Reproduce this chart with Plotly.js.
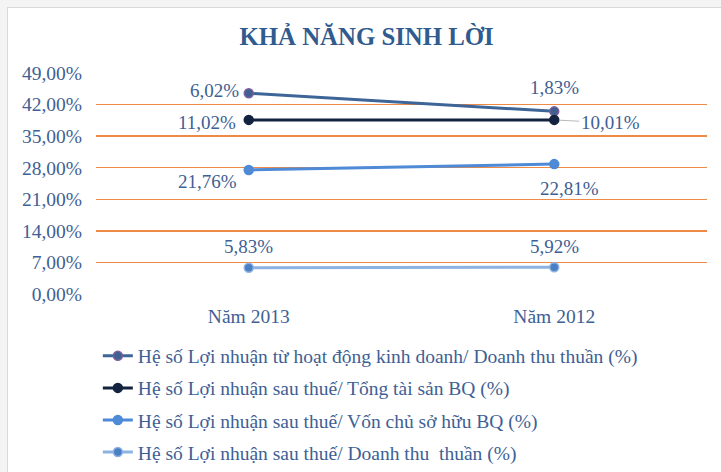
<!DOCTYPE html>
<html>
<head>
<meta charset="utf-8">
<script src="https://cdn.plot.ly/plotly-3.0.1.min.js"></script>
<style>
  html, body { margin: 0; padding: 0; background: #f4f4f4; width: 721px; height: 472px; overflow: hidden; }
  #wrap { position: absolute; left: 7px; top: 7px; width: 714px; height: 465px; background: #ffffff;
          border-top: 1px solid #d9d9d9; border-left: 1px solid #d9d9d9; }
  #chart { width: 713px; height: 464px; }
</style>
</head>
<body>
<div id="wrap"><div id="chart"></div></div>
<script>
// ---- data ----
var categories = ["Năm 2013", "Năm 2012"];
var seriesNames = [
  "Hệ số Lợi nhuận từ hoạt động kinh doanh/ Doanh thu thuần (%)",
  "Hệ số Lợi nhuận sau thuế/ Tổng tài sản BQ (%)",
  "Hệ số Lợi nhuận sau thuế/ Vốn chủ sở hữu BQ (%)",
  "Hệ số Lợi nhuận sau thuế/ Doanh thu  thuần (%)"
];
var s1Values = [44.5, 40.5];
var s2Values = [38.6, 38.6];
var s3Values = [27.5, 28.8];
var s4Values = [5.83, 5.92];
var s1Labels = ["6,02%", "1,83%"];
var s2Labels = ["11,02%", "10,01%"];
var s3Labels = ["21,76%", "22,81%"];
var s4Labels = ["5,83%", "5,92%"];

// ---- styles ----
var FONT = "Liberation Serif, Times New Roman, serif";
var TXT = "#3E6094";
var lineColors = ["#3D6597", "#13233F", "#4E8AD6", "#8DB3E2"];
var markerColors = ["#3F6090", "#13233F", "#4E8AD6", "#4A7FC4"];
var markerLines = ["#7E5F9E", "#13233F", "#4E8AD6", "#8DB3E2"];
var allValues = [s1Values, s2Values, s3Values, s4Values];
var allLabels = [s1Labels, s2Labels, s3Labels, s4Labels];
// label placement per series/point: [xanchor, xshift, yshift]
var labelPlace = [
  [["right", -8, 3], ["center", 0, 24]],
  [["right", -11, -3], ["leader", 0, 0]],
  [["right", -10, -12], ["center", 15, -24]],
  [["center", 0, 21], ["center", 0, 21]]
];

var traces = allValues.map(function (vals, i) {
  return {
    type: "scatter",
    mode: "lines+markers",
    x: categories,
    y: vals,
    name: seriesNames[i],
    legendgroup: "g" + i,
    line: { color: lineColors[i], width: 3 },
    marker: { color: markerColors[i], size: 9, line: { color: markerLines[i], width: 1.5 } },
    hoverinfo: "none"
  };
});

var annotations = [];
allValues.forEach(function (vals, i) {
  vals.forEach(function (v, j) {
    var p = labelPlace[i][j];
    if (p[0] === "leader") {
      annotations.push({
        x: categories[j], y: v, xref: "x", yref: "y",
        text: allLabels[i][j],
        showarrow: true, arrowhead: 0, arrowwidth: 0.8, arrowcolor: "#A6A6A6",
        ax: 56, ay: 3, standoff: 5,
        font: { family: FONT, size: 19, color: TXT }
      });
    } else {
      annotations.push({
        x: categories[j], y: v, xref: "x", yref: "y",
        text: allLabels[i][j],
        showarrow: false,
        xanchor: p[0], yanchor: "middle",
        xshift: p[1], yshift: p[2],
        font: { family: FONT, size: 19, color: TXT }
      });
    }
  });
});

var layout = {
  width: 713, height: 464,
  paper_bgcolor: "#ffffff", plot_bgcolor: "#ffffff",
  separators: ",.",
  margin: { l: 88, r: 14, t: 65, b: 178, autoexpand: false },
  font: { family: FONT, size: 19, color: TXT },
  title: {
    text: "<b>KHẢ NĂNG SINH LỜI</b>",
    font: { family: FONT, size: 24.8, color: "#2F5B8E" },
    x: 0.503, xanchor: "center", y: 0.94, yanchor: "middle", yref: "container"
  },
  xaxis: {
    type: "category", range: [-0.5, 1.5],
    showgrid: false, showline: false, zeroline: false, ticks: "",
    tickangle: 0, automargin: false,
    tickfont: { family: FONT, size: 19.5, color: TXT },
    ticklabelstandoff: 8,
    fixedrange: true
  },
  yaxis: {
    range: [0, 49], dtick: 7, tick0: 0,
    tickformat: ".2f", ticksuffix: "%",
    showgrid: true, gridcolor: "#ED8A45", gridwidth: 1.3,
    zeroline: false, showline: false, ticks: "", automargin: false,
    tickfont: { family: FONT, size: 19.5, color: TXT },
    ticklabelstandoff: 13,
    fixedrange: true
  },
  showlegend: true,
  legend: {
    orientation: "v",
    x: 0.003, xanchor: "left",
    y: -0.193, yanchor: "top",
    font: { family: FONT, size: 19.5, color: TXT },
    tracegroupgap: 3.7,
    bgcolor: "rgba(0,0,0,0)"
  },
  annotations: annotations
};

Plotly.newPlot("chart", traces, layout, { displayModeBar: false, staticPlot: true });
</script>
</body>
</html>
